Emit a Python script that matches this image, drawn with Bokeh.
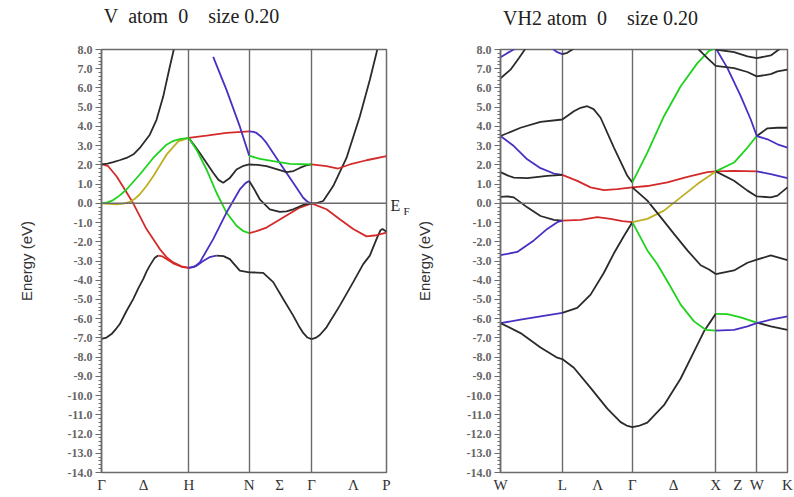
from bokeh.plotting import figure
from bokeh.layouts import row
from bokeh.models import (Range1d, FixedTicker, SingleIntervalTicker, PrintfTickFormatter, Span,
                          LinearAxis)
from bokeh.embed import file_html
from bokeh.resources import INLINE

# ---------------- V (bcc) panel ----------------
v_title = "V\u00a0\u00a0atom\u00a0\u00a00\u00a0\u00a0\u00a0\u00a0size 0.20"
v_sym_k = [0.0, 0.873, 1.477, 2.10, 2.85]
v_tick_k = [0.0, 0.42, 0.873, 1.477, 1.78, 2.10, 2.52, 2.85]
v_tick_lbl = ["Γ", "Δ", "H", "N", "Σ", "Γ", "Λ", "P"]

v_k01 = [0, 0.05, 0.10, 0.15, 0.183, 0.25, 0.317, 0.37, 0.417, 0.45, 0.483, 0.53, 0.567]
v_e01 = [-7.05, -6.98, -6.8, -6.5, -6.28, -5.6, -4.98, -4.4, -3.94, -3.55, -3.24, -2.85, -2.72]
v_k02 = [0.567, 0.61, 0.65, 0.717, 0.80, 0.873]
v_e02 = [-2.72, -2.76, -2.9, -3.12, -3.3, -3.36]
v_k03 = [0, 0.03, 0.067, 0.15, 0.233, 0.317, 0.45, 0.583, 0.65, 0.717, 0.80, 0.873]
v_e03 = [2.02, 2.0, 1.93, 1.41, 0.72, 0.0, -1.34, -2.38, -2.8, -3.07, -3.28, -3.36]
v_k04 = [0, 0.06, 0.117, 0.18, 0.25, 0.32, 0.383, 0.483, 0.55, 0.617, 0.683, 0.723]
v_e04 = [2.02, 2.06, 2.14, 2.24, 2.36, 2.55, 2.88, 3.57, 4.34, 5.55, 7.1, 8.0]
v_k05 = [0, 0.06, 0.117, 0.18, 0.25, 0.383, 0.517, 0.65, 0.72, 0.783, 0.873]
v_e05 = [0.0, 0.05, 0.17, 0.4, 0.72, 1.5, 2.36, 3.05, 3.25, 3.34, 3.4]
v_k06 = [0, 0.15, 0.22, 0.283, 0.33, 0.383, 0.45, 0.517, 0.65, 0.767, 0.873]
v_e06 = [0.0, -0.05, -0.02, 0.07, 0.22, 0.47, 0.9, 1.41, 2.53, 3.22, 3.4]
v_k07 = [0.873, 1.05, 1.25, 1.477]
v_e07 = [3.4, 3.52, 3.66, 3.74]
v_k08 = [1.477, 1.52, 1.55, 1.6, 1.65, 1.783, 1.917, 2.017, 2.06, 2.10]
v_e08 = [3.74, 3.72, 3.66, 3.45, 3.14, 2.1, 1.07, 0.29, 0.08, 0.0]
v_k09 = [0.873, 0.93, 0.983, 1.117, 1.17, 1.217, 1.28, 1.35, 1.42, 1.477]
v_e09 = [3.4, 3.0, 2.62, 1.59, 1.22, 1.07, 1.3, 1.76, 1.95, 2.02]
v_k10 = [1.477, 1.56, 1.65, 1.75, 1.85, 1.92, 1.983, 2.05, 2.10]
v_e10 = [2.02, 2.0, 1.93, 1.78, 1.62, 1.68, 1.84, 1.98, 2.02]
v_k11 = [0.873, 0.95, 1.05, 1.15, 1.25, 1.35, 1.42, 1.477]
v_e11 = [3.4, 2.79, 1.76, 0.55, -0.48, -1.17, -1.45, -1.55]
v_k12 = [1.477, 1.55, 1.65, 1.817, 1.983, 2.10]
v_e12 = [-1.55, -1.45, -1.26, -0.74, -0.22, 0.0]
v_k13 = [0.873, 0.93, 0.983, 1.117, 1.25, 1.383, 1.44, 1.477]
v_e13 = [-3.36, -3.3, -3.07, -1.86, -0.48, 0.72, 1.05, 1.16]
v_k14 = [1.477, 1.52, 1.583, 1.683, 1.783, 1.85, 1.917, 2.033, 2.10]
v_e14 = [1.16, 0.8, 0.21, -0.31, -0.45, -0.42, -0.31, -0.05, 0.0]
v_k15 = [1.117, 1.25, 1.383, 1.477]
v_e15 = [7.62, 5.9, 4.0, 2.48]
v_k16 = [1.477, 1.583, 1.717, 1.883, 2.10]
v_e16 = [2.48, 2.31, 2.19, 2.05, 2.02]
v_k17 = [0.873, 0.95, 1.017, 1.08, 1.15]
v_e17 = [-3.36, -3.25, -3.0, -2.8, -2.72]
v_k18 = [1.15, 1.22, 1.283, 1.383, 1.477, 1.55, 1.617, 1.717, 1.817, 1.917, 1.97, 2.017, 2.06, 2.10]
v_e18 = [-2.72, -2.75, -2.9, -3.5, -3.59, -3.6, -3.62, -4.1, -4.98, -5.84, -6.35, -6.74, -6.98, -7.06]
v_k19 = [2.10, 2.14, 2.183, 2.25, 2.383, 2.517, 2.617, 2.683, 2.75, 2.79, 2.81, 2.85]
v_e19 = [-7.06, -7.0, -6.85, -6.45, -5.32, -4.1, -3.16, -2.72, -1.86, -1.4, -1.34, -1.48]
v_k20 = [2.10, 2.25, 2.383, 2.517, 2.65, 2.75, 2.85]
v_e20 = [0.0, -0.31, -0.83, -1.34, -1.72, -1.66, -1.52]
v_k21 = [2.10, 2.16, 2.217, 2.317, 2.45, 2.583, 2.683, 2.757]
v_e21 = [0.0, 0.02, 0.12, 0.9, 2.36, 4.52, 6.41, 7.97]
v_k22 = [2.10, 2.25, 2.367, 2.483, 2.65, 2.85]
v_e22 = [2.02, 1.93, 1.81, 2.02, 2.24, 2.45]

# ---------------- VH2 (fcc) panel ----------------
vh_title = "VH2 atom\u00a0\u00a00\u00a0\u00a0\u00a0\u00a0size 0.20"
vh_sym_k = [0.0, 0.617, 1.317, 2.15, 2.56, 2.867]
vh_tick_k = [0.0, 0.617, 0.97, 1.317, 1.73, 2.15, 2.37, 2.56, 2.867]
vh_tick_lbl = ["W", "L", "Λ", "Γ", "Δ", "X", "Z", "W", "K"]

vh_k01 = [0, 0.2, 0.4, 0.617, 0.733, 0.8, 0.867, 0.93, 1.0, 1.133, 1.267, 1.317]
vh_e01 = [3.5, 3.93, 4.24, 4.36, 4.79, 4.97, 5.05, 4.9, 4.45, 2.9, 1.43, 1.09]
vh_k02 = [0, 0.133, 0.267, 0.4, 0.533, 0.617]
vh_e02 = [3.5, 2.98, 2.29, 1.83, 1.55, 1.48]
vh_k03 = [0.617, 0.767, 0.9, 1.033, 1.167, 1.317, 1.467, 1.667, 1.867, 2.067, 2.15, 2.333, 2.56]
vh_e03 = [1.48, 1.17, 0.83, 0.69, 0.74, 0.83, 0.9, 1.09, 1.38, 1.62, 1.66, 1.69, 1.66]
vh_k04 = [2.56, 2.7, 2.867]
vh_e04 = [1.66, 1.52, 1.31]
vh_k05 = [0, 0.07, 0.133, 0.267, 0.467, 0.617]
vh_e05 = [1.62, 1.45, 1.34, 1.31, 1.43, 1.48]
vh_k06 = [0, 0.07, 0.133, 0.267, 0.4, 0.533, 0.617]
vh_e06 = [0.34, 0.36, 0.31, -0.21, -0.66, -0.86, -0.9]
vh_k07 = [0.617, 0.8, 0.967, 1.1, 1.217, 1.317]
vh_e07 = [-0.9, -0.86, -0.72, -0.81, -0.93, -0.98]
vh_k08 = [0, 0.167, 0.333, 0.467, 0.567, 0.617]
vh_e08 = [-2.7, -2.53, -1.93, -1.33, -0.98, -0.9]
vh_k09 = [0, 0.067, 0.15]
vh_e09 = [7.6, 7.81, 8.05]
vh_k10 = [0, 0.1, 0.183, 0.25]
vh_e10 = [6.5, 6.95, 7.55, 8.05]
vh_k11 = [0.517, 0.567, 0.617]
vh_e11 = [8.05, 7.86, 7.76]
vh_k12 = [0.617, 0.667, 0.733]
vh_e12 = [7.76, 7.83, 8.05]
vh_k13 = [0, 0.2, 0.4, 0.617]
vh_e13 = [-6.23, -6.05, -5.88, -5.7]
vh_k14 = [0.617, 0.767, 0.9, 1.033, 1.133, 1.233, 1.317]
vh_e14 = [-5.7, -5.44, -4.75, -3.61, -2.6, -1.7, -0.98]
vh_k15 = [0, 0.2, 0.4, 0.567, 0.617, 0.733, 0.9, 1.067, 1.2, 1.26, 1.317, 1.38, 1.467, 1.633, 1.8, 1.933, 2.033, 2.15]
vh_e15 = [-6.23, -6.75, -7.5, -8.03, -8.1, -8.55, -9.6, -10.68, -11.38, -11.56, -11.64, -11.58, -11.41, -10.5, -9.11, -7.71, -6.66, -5.75]
vh_k16 = [2.15, 2.267, 2.4, 2.56]
vh_e16 = [-5.75, -5.76, -5.93, -6.2]
vh_k17 = [2.56, 2.7, 2.867]
vh_e17 = [-6.2, -6.4, -6.58]
vh_k18 = [1.317, 1.467, 1.567, 1.667, 1.8, 1.933, 2.05, 2.15]
vh_e18 = [-0.98, -2.45, -3.17, -4.05, -5.27, -6.14, -6.58, -6.62]
vh_k19 = [2.15, 2.333, 2.467, 2.56, 2.7, 2.867]
vh_e19 = [-6.62, -6.58, -6.4, -6.23, -6.05, -5.88]
vh_k20 = [1.317, 1.467, 1.633, 1.8, 1.967, 2.15]
vh_e20 = [-0.98, -0.81, -0.38, 0.31, 1.0, 1.66]
vh_k21 = [2.15, 2.333, 2.467, 2.56]
vh_e21 = [1.66, 2.12, 2.9, 3.5]
vh_k22 = [2.56, 2.667, 2.767, 2.867]
vh_e22 = [3.5, 3.9, 3.93, 3.93]
vh_k23 = [2.15, 2.267, 2.4, 2.5, 2.56, 2.667, 2.767, 2.867]
vh_e23 = [8.07, 7.03, 5.57, 4.36, 3.5, 3.33, 3.07, 2.9]
vh_k24 = [1.317, 1.467, 1.633, 1.8, 1.967, 2.083, 2.15]
vh_e24 = [1.09, 2.64, 4.53, 6.09, 7.29, 7.93, 8.07]
vh_k25 = [1.317, 1.467, 1.6, 1.733, 1.867, 2.0, 2.083, 2.15]
vh_e25 = [0.83, 0.14, -0.72, -1.59, -2.45, -3.22, -3.44, -3.68]
vh_k26 = [2.15, 2.333, 2.467, 2.56, 2.7, 2.867]
vh_e26 = [-3.68, -3.49, -3.09, -2.93, -2.71, -2.95]
vh_k27 = [2.15, 2.333, 2.467, 2.56, 2.7, 2.767, 2.867]
vh_e27 = [1.66, 1.17, 0.66, 0.36, 0.31, 0.4, 0.83]
vh_k28 = [1.967, 2.067, 2.15, 2.333, 2.467, 2.56, 2.7, 2.767, 2.867]
vh_e28 = [8.07, 7.55, 7.15, 7.03, 6.83, 6.6, 6.72, 6.86, 6.95]
vh_k29 = [2.15, 2.333, 2.467, 2.56, 2.7, 2.8]
vh_e29 = [8.0, 7.86, 7.64, 7.55, 7.69, 8.07]

BLK, RED, GRN, BLU, YEL = "#2b2b2b", "#d42a2a", "#1ed21e", "#4b2fc2", "#bfae22"

v_pieces = [
    (v_k01, v_e01, BLK), (v_k02, v_e02, RED), (v_k03, v_e03, RED), (v_k04, v_e04, BLK),
    (v_k06, v_e06, YEL), (v_k05, v_e05, GRN), (v_k07, v_e07, RED), (v_k08, v_e08, BLU),
    (v_k09, v_e09, BLK), (v_k10, v_e10, BLK), (v_k11, v_e11, GRN), (v_k12, v_e12, RED),
    (v_k13, v_e13, BLU), (v_k14, v_e14, BLK), (v_k15, v_e15, BLU), (v_k16, v_e16, GRN),
    (v_k17, v_e17, BLU), (v_k18, v_e18, BLK), (v_k19, v_e19, BLK), (v_k20, v_e20, RED),
    (v_k21, v_e21, BLK), (v_k22, v_e22, RED),
]
vh_pieces = [
    (vh_k01, vh_e01, BLK), (vh_k02, vh_e02, BLU), (vh_k03, vh_e03, RED), (vh_k04, vh_e04, BLU),
    (vh_k05, vh_e05, BLK), (vh_k06, vh_e06, BLK), (vh_k07, vh_e07, RED), (vh_k08, vh_e08, BLU),
    (vh_k09, vh_e09, BLU), (vh_k10, vh_e10, BLK), (vh_k11, vh_e11, BLU), (vh_k12, vh_e12, BLK),
    (vh_k13, vh_e13, BLU), (vh_k14, vh_e14, BLK), (vh_k15, vh_e15, BLK), (vh_k16, vh_e16, GRN),
    (vh_k17, vh_e17, BLK), (vh_k18, vh_e18, GRN), (vh_k19, vh_e19, BLU), (vh_k20, vh_e20, YEL),
    (vh_k21, vh_e21, GRN), (vh_k22, vh_e22, BLK), (vh_k23, vh_e23, BLU), (vh_k24, vh_e24, GRN),
    (vh_k25, vh_e25, BLK), (vh_k26, vh_e26, BLK), (vh_k27, vh_e27, BLK), (vh_k28, vh_e28, BLK),
    (vh_k29, vh_e29, BLK),
]

# Fermi-level marker: "E" with subscript "F", at the energy zero
ef_main_pos = [-0.1]
ef_sub_pos = [-0.4]

FRAME = "#6b6b6b"
SERIF = "Liberation Serif"
SANS = "Liberation Sans"


def plain_axis(ticks, text, size, standoff):
    ax = LinearAxis(ticker=FixedTicker(ticks=ticks),
                    major_label_overrides={ticks[0]: text})
    ax.axis_line_color = None
    ax.major_tick_line_color = None
    ax.minor_tick_line_color = None
    ax.major_tick_out = 0
    ax.major_tick_in = 0
    ax.minor_tick_out = 0
    ax.major_label_standoff = standoff
    ax.major_label_text_font = SERIF
    ax.major_label_text_font_size = size
    ax.major_label_text_color = "#222222"
    return ax


def make_panel(title, title_k, width, xmax, sym_k, tick_k, tick_lbl, pieces, borders,
               label_standoff, title_standoff, fermi_label):
    left, right, top, bottom = borders
    p = figure(width=width, height=497, output_backend="svg", toolbar_location=None,
               x_range=Range1d(0, xmax), y_range=Range1d(-14, 8),
               min_border_left=left, min_border_right=right,
               min_border_top=top, min_border_bottom=bottom)
    p.title.visible = False
    p.outline_line_color = FRAME
    p.outline_line_width = 1.5
    p.background_fill_color = "white"
    p.border_fill_color = "white"

    p.xgrid.ticker = FixedTicker(ticks=sym_k)
    p.xgrid.grid_line_color = FRAME
    p.xgrid.grid_line_width = 1.4
    p.ygrid.visible = False

    xa = p.below[0]
    xa.ticker = FixedTicker(ticks=tick_k)
    xa.major_label_overrides = {k: s for k, s in zip(tick_k, tick_lbl)}
    xa.major_tick_in = 0
    xa.major_tick_out = 0
    xa.minor_tick_out = 0
    xa.minor_tick_in = 0
    xa.axis_line_color = FRAME
    xa.major_label_standoff = 4
    xa.major_label_text_font = SERIF
    xa.major_label_text_font_size = "15px"
    xa.major_label_text_color = "#333333"

    ya = p.left[0]
    ya.ticker = SingleIntervalTicker(interval=1, num_minor_ticks=5)
    ya.formatter = PrintfTickFormatter(format="%.1f")
    ya.major_tick_out = 6
    ya.major_tick_in = 0
    ya.minor_tick_out = 3
    ya.minor_tick_in = 0
    ya.axis_line_color = FRAME
    ya.axis_line_width = 1.5
    ya.major_tick_line_color = FRAME
    ya.minor_tick_line_color = FRAME
    ya.major_label_text_font = SERIF
    ya.major_label_text_font_size = "12px"
    ya.major_label_text_font_style = "bold"
    ya.major_label_text_color = "#666666"
    ya.major_label_standoff = 3
    ya.axis_label = "Energy (eV)"
    ya.axis_label_text_font = SANS
    ya.axis_label_text_font_size = "15px"
    ya.axis_label_text_font_style = "normal"
    ya.axis_label_text_color = "#333333"
    ya.axis_label_standoff = label_standoff

    # panel heading, centred above the frame
    p.add_layout(plain_axis([title_k], title, "20px", title_standoff), "above")

    p.add_layout(Span(location=0, dimension="width", line_color=FRAME, line_width=1.4))

    for k, e, c in pieces:
        p.line(k, e, line_color=c, line_width=1.8)

    if fermi_label:
        p.add_layout(plain_axis(ef_main_pos, "E", "16px", 4), "right")
        p.add_layout(plain_axis(ef_sub_pos, "F", "11px", 0), "right")
    return p


p1 = make_panel(v_title, 0.90, 412, 2.85, v_sym_k, v_tick_k, v_tick_lbl, v_pieces,
                (101, 26, 49, 23), 30, 23, True)

p2 = make_panel(vh_title, 1.0, 382, 2.867, vh_sym_k, vh_tick_k, vh_tick_lbl, vh_pieces,
                (88, 7, 47, 25), 31, 21, False)

layout = row(p1, p2)
open("out.html", "w").write(file_html(layout, INLINE))
